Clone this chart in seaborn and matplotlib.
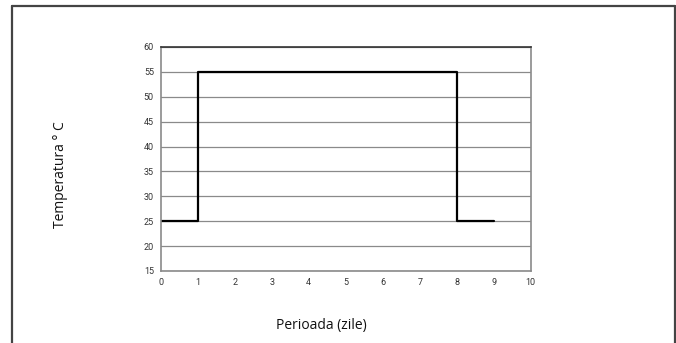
import matplotlib
matplotlib.use('Agg')
import matplotlib.pyplot as plt
import seaborn as sns
import pandas as pd
from matplotlib.lines import Line2D

# step profile: temperature over days
days = [0, 1, 1, 8, 8, 9]
temps = [25, 25, 55, 55, 25, 25]
x_ticks = [0, 1, 2, 3, 4, 5, 6, 7, 8, 9, 10]
y_ticks = [15, 20, 25, 30, 35, 40, 45, 50, 55, 60]

sns.set_style('white')
plt.rcParams['font.family'] = ['Open Sans', 'DejaVu Sans']

df = pd.DataFrame({'zile': days, 'temp': temps})

fig = plt.figure(figsize=(6.76, 3.43), dpi=100)
ax = fig.add_axes([0.238, 0.210, 0.547, 0.653])

sns.lineplot(data=df, x='zile', y='temp', sort=False, color='black',
             linewidth=1.6, ax=ax, estimator=None)

ax.set_xlim(0, 10)
ax.set_ylim(15, 60)
ax.set_xticks(x_ticks)
ax.set_yticks(y_ticks)
ax.grid(True, axis='y', color='#8a8a8a', linewidth=0.9)
ax.set_axisbelow(True)
for s in ax.spines.values():
    s.set_color('#8a8a8a')
    s.set_linewidth(1.2)
ax.spines['top'].set_color('#333333')
ax.tick_params(axis='both', length=2, width=0.8, color='#8a8a8a',
               labelsize=6.5, labelcolor='#333333', pad=3)
for lab in ax.get_xticklabels() + ax.get_yticklabels():
    lab.set_family(['Liberation Sans Narrow', 'Roboto', 'DejaVu Sans'])

ax.set_xlabel('')
ax.set_ylabel('')
fig.text(0.476, 0.052, 'Perioada (zile)', ha='center', va='center',
         fontsize=10, color='#111111')
fig.text(0.089, 0.49, 'Temperatura ° C', ha='center', va='center',
         rotation=90, fontsize=10, color='#111111')

# outer frame (no bottom edge)
fc = '#444444'
fig.add_artist(Line2D([0.018, 0.018], [0, 0.983], transform=fig.transFigure, color=fc, lw=1.6))
fig.add_artist(Line2D([0.018, 0.998], [0.983, 0.983], transform=fig.transFigure, color=fc, lw=1.6))
fig.add_artist(Line2D([0.998, 0.998], [0, 0.983], transform=fig.transFigure, color=fc, lw=1.6))

fig.savefig('out.png', dpi=100)
